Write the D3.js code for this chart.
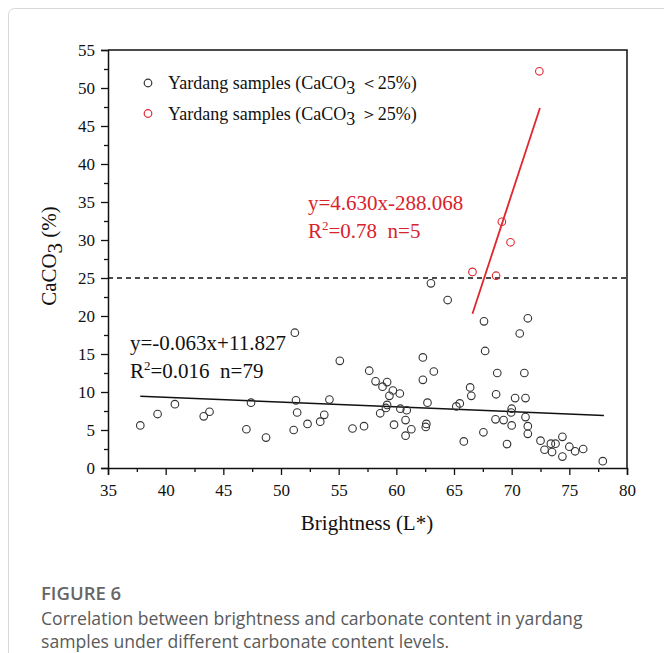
<!DOCTYPE html>
<html><head><meta charset="utf-8">
<script src="https://cdn.jsdelivr.net/npm/d3@7"></script>
<style>body{margin:0;background:#fff}svg{display:block}
.tick text{font-family:'Liberation Serif','Times New Roman',serif !important;}
</style>
</head><body>
<script>
// ---- data ----
const lowX = [37.8,39.3,40.8,43.3,43.8,47.4,47.0,48.7,51.2,51.3,51.4,51.1,52.3,53.4,53.75,54.2,55.1,56.2,57.2,57.65,58.2,59.2,58.8,59.7,60.3,59.4,59.2,59.1,58.6,59.8,60.35,60.9,60.8,61.3,60.8,62.3,63.25,62.3,62.7,62.6,62.55,65.2,65.5,66.4,66.5,65.85,63.0,64.45,67.6,71.4,70.7,67.7,68.75,71.1,68.65,70.3,71.2,70.0,69.95,68.6,69.3,70.0,71.2,71.4,71.4,67.55,69.6,72.5,72.85,73.5,73.4,73.8,74.4,74.4,75.0,75.5,76.2,77.9];
const lowY = [5.6,7.1,8.4,6.8,7.4,8.6,5.1,4.0,17.8,8.9,7.3,5.0,5.8,6.1,7.0,9.0,14.1,5.2,5.5,12.8,11.4,11.3,10.7,10.2,9.8,9.5,8.3,7.9,7.2,5.7,7.8,7.6,6.3,5.1,4.25,14.55,12.7,11.6,8.6,5.8,5.4,8.1,8.5,10.6,9.5,3.5,24.3,22.1,19.3,19.7,17.7,15.4,12.5,12.5,9.7,9.2,9.2,7.8,7.3,6.4,6.3,5.6,6.7,5.5,4.5,4.7,3.15,3.6,2.4,2.1,3.2,3.2,4.1,1.5,2.8,2.2,2.5,0.9];
const highX = [72.4,69.15,69.9,66.6,68.65];
const highY = [52.2,32.4,29.7,25.8,25.3];
const lowFit = {slope:-0.063, intercept:11.827, x0:37.8, x1:78.0};
const highFit = {slope:4.630, intercept:-288.068, x0:66.6, x1:72.45};
const threshold = 25;
const xTicks = [35,40,45,50,55,60,65,70,75,80];
const yTicks = [0,5,10,15,20,25,30,35,40,45,50,55];

const W = 664, H = 653;
const RED = "#e0262f";
const serif = "'Liberation Serif','Times New Roman',serif";
const sans = "'Open Sans','Noto Sans',sans-serif";

const svg = d3.select("body").append("svg").attr("width", W).attr("height", H);

// outer frame
svg.append("rect").attr("x", 8.5).attr("y", 8.5).attr("width", W + 20).attr("height", H + 20)
  .attr("rx", 6).attr("fill", "none").attr("stroke", "#d8d8d8").attr("stroke-width", 1);

const x = d3.scaleLinear().domain([35, 80]).range([108, 627]);
const y = d3.scaleLinear().domain([0, 55]).range([468, 50]);

// plot frame (top + right)
svg.append("path")
  .attr("d", `M${x(35)},${y(55)}H${x(80)}V${y(0)}`)
  .attr("fill", "none").attr("stroke", "#111").attr("stroke-width", 1.5);

// bottom axis
const xMinor = d3.range(35, 80.01, 2.5);
const gx = svg.append("g").attr("transform", `translate(0,${y(0)})`)
  .call(d3.axisBottom(x).tickValues(xMinor).tickSize(7).tickPadding(9)
    .tickFormat(d => xTicks.includes(d) ? d : ""));
gx.attr("font-family", serif).attr("font-size", 17);
gx.select(".domain").attr("stroke", "#111").attr("stroke-width", 1.5);
gx.selectAll(".tick line").attr("stroke", "#111").attr("stroke-width", 1.3)
  .attr("y2", d => xTicks.includes(d) ? 7 : 4);
gx.selectAll(".tick text").style("font-family", serif).style("font-size", "17px").attr("fill", "#111");

// left axis
const yMinor = d3.range(0, 55.01, 2.5);
const gy = svg.append("g").attr("transform", `translate(${x(35)},0)`)
  .call(d3.axisLeft(y).tickValues(yMinor).tickSize(7).tickPadding(6)
    .tickFormat(d => yTicks.includes(d) ? d : ""));
gy.attr("font-family", serif).attr("font-size", 17);
gy.select(".domain").attr("stroke", "#111").attr("stroke-width", 1.5);
gy.selectAll(".tick line").attr("stroke", "#111").attr("stroke-width", 1.3)
  .attr("x2", d => yTicks.includes(d) ? -7 : -4);
gy.selectAll(".tick text").style("font-family", serif).style("font-size", "17px").attr("fill", "#111");

// threshold dashed line
svg.append("line")
  .attr("x1", x(35)).attr("x2", x(80)).attr("y1", y(threshold)).attr("y2", y(threshold))
  .attr("stroke", "#111").attr("stroke-width", 1.3).attr("stroke-dasharray", "5,4");

// fit lines
svg.append("line")
  .attr("x1", x(lowFit.x0)).attr("y1", y(lowFit.slope * lowFit.x0 + lowFit.intercept))
  .attr("x2", x(lowFit.x1)).attr("y2", y(lowFit.slope * lowFit.x1 + lowFit.intercept))
  .attr("stroke", "#111").attr("stroke-width", 1.6);
svg.append("line")
  .attr("x1", x(highFit.x0)).attr("y1", y(highFit.slope * highFit.x0 + highFit.intercept))
  .attr("x2", x(highFit.x1)).attr("y2", y(highFit.slope * highFit.x1 + highFit.intercept))
  .attr("stroke", RED).attr("stroke-width", 1.8);

// points
svg.append("g").selectAll("circle").data(lowX.map((v, i) => [v, lowY[i]])).join("circle")
  .attr("cx", d => x(d[0])).attr("cy", d => y(d[1])).attr("r", 3.8)
  .attr("fill", "none").attr("stroke", "#333").attr("stroke-width", 1.1);
svg.append("g").selectAll("circle").data(highX.map((v, i) => [v, highY[i]])).join("circle")
  .attr("cx", d => x(d[0])).attr("cy", d => y(d[1])).attr("r", 3.8)
  .attr("fill", "none").attr("stroke", RED).attr("stroke-width", 1.1);

// legend
const legend = [
  {color: "#333", sign: "\uFF1C25%)"},
  {color: RED, sign: "\uFF1E25%)"}
];
legend.forEach((l, i) => {
  const cy = 83 + i * 30.5;
  svg.append("circle").attr("cx", 148).attr("cy", cy).attr("r", 3.8)
    .attr("fill", "none").attr("stroke", l.color).attr("stroke-width", 1.2);
  const t = svg.append("text").attr("x", 168).attr("y", cy + 6)
    .attr("font-family", serif).attr("font-size", 18).attr("fill", "#111");
  t.append("tspan").text("Yardang samples (CaCO");
  t.append("tspan").attr("dy", 5).text("3");
  t.append("tspan").attr("dy", -5).text(" " + l.sign);
});

// equations
function eq(xp, yp, line1, r2, n, color) {
  svg.append("text").attr("x", xp).attr("y", yp).attr("font-family", serif)
    .attr("font-size", 21).attr("fill", color).text(line1);
  const t = svg.append("text").attr("x", xp).attr("y", yp + 28).attr("font-family", serif)
    .attr("font-size", 21).attr("fill", color);
  t.append("tspan").text("R");
  t.append("tspan").attr("dy", -8).attr("font-size", 13).text("2");
  t.append("tspan").attr("dy", 8).text("=" + r2 + "\u00A0\u00A0n=" + n);
}
eq(130, 350, "y=-0.063x+11.827", "0.016", 79, "#111");
eq(308, 210, "y=4.630x-288.068", "0.78", 5, "#d8232c");

// axis titles
svg.append("text").attr("x", 367).attr("y", 530).attr("text-anchor", "middle")
  .attr("font-family", serif).attr("font-size", 21).attr("fill", "#111").text("Brightness (L*)");
const yt = svg.append("text").attr("transform", "translate(56,256) rotate(-90)")
  .attr("text-anchor", "middle").attr("font-family", serif).attr("font-size", 21).attr("fill", "#111");
yt.append("tspan").text("CaCO");
yt.append("tspan").attr("dy", 6).text("3");
yt.append("tspan").attr("dy", -6).text(" (%)");

// caption
svg.append("text").attr("x", 41).attr("y", 600).attr("font-family", sans).attr("font-weight", 600)
  .attr("font-size", 18.5).attr("fill", "#666").text("FIGURE 6");
svg.append("text").attr("x", 41).attr("y", 625).attr("font-family", sans)
  .attr("font-size", 17.6).attr("fill", "#5a5a5a").text("Correlation between brightness and carbonate content in yardang");
svg.append("text").attr("x", 41).attr("y", 648).attr("font-family", sans)
  .attr("font-size", 17.6).attr("fill", "#5a5a5a").text("samples under different carbonate content levels.");
</script>
</body></html>
